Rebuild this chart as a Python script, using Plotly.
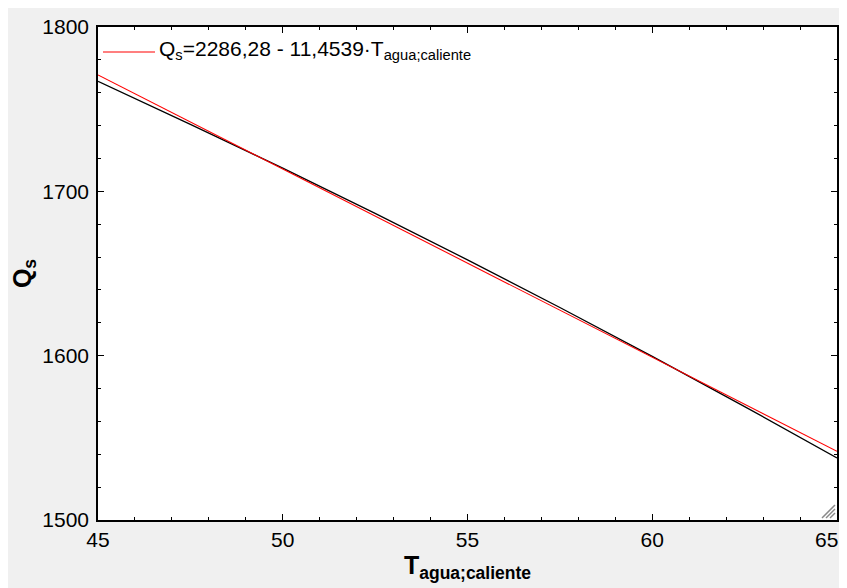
import plotly.graph_objects as go

# Data
t_agua = [45, 47.5, 50, 52.5, 55, 57.5, 60, 62.5, 65]
q_s = [1766.9, 1740.8, 1714.1, 1686.6, 1658.3, 1629.3, 1599.6, 1569.0, 1537.8]

fit_intercept = 2286.28
fit_slope = -11.4539
fit_x = [45, 65]
fit_y = [fit_intercept + fit_slope * x for x in fit_x]
fit_label = "Q<sub>s</sub>=2286,28 - 11,4539·T<sub>agua;caliente</sub>"

x_ticks = [45, 50, 55, 60, 65]
y_ticks = [1500, 1600, 1700, 1800]

font_family = "Liberation Sans, Arial, sans-serif"

W, H = 839, 580
ML, MR, MT, MB = 90, 10, 19, 68
PW, PH = W - ML - MR, H - MT - MB

fig = go.Figure()
fig.add_trace(go.Scatter(x=t_agua, y=q_s, mode="lines", line=dict(color="black", width=1.3),
                         showlegend=False, line_shape="spline"))
fig.add_trace(go.Scatter(x=fit_x, y=fit_y, mode="lines", line=dict(color="#ff0000", width=1.1),
                         name=fit_label, showlegend=False))

axis_common = dict(
    showgrid=False, zeroline=False, showline=True, linecolor="black", linewidth=1.5,
    mirror="allticks", ticks="inside", ticklen=6, tickwidth=1, tickcolor="black",
    tickfont=dict(size=21, color="black", family=font_family),
)

# last x label is drawn right-aligned at the edge (as in the reference), others by the axis
x_ticktext = [str(v) for v in x_ticks[:-1]] + [""]

fig.update_xaxes(range=[45, 65], tickvals=x_ticks, ticktext=x_ticktext,
                 minor=dict(dtick=1, ticks="inside", ticklen=3, tickcolor="black"),
                 title=dict(text="<b>T<sub>agua;caliente</sub></b>", standoff=0,
                            font=dict(size=25, color="black", family=font_family)),
                 **axis_common)
fig.update_yaxes(range=[1500, 1800], tickvals=y_ticks, ticktext=[str(v) for v in y_ticks],
                 minor=dict(dtick=20, ticks="inside", ticklen=3, tickcolor="black"),
                 ticklabelstandoff=3,
                 title=dict(text="<b>Q<sub>s</sub></b>", standoff=12,
                            font=dict(size=25, color="black", family=font_family)),
                 **axis_common)

fig.add_annotation(xref="x", yref="paper", x=x_ticks[-1], y=0, xanchor="right", yanchor="top",
                   xshift=3, yshift=-6, showarrow=False, text=str(x_ticks[-1]),
                   font=dict(size=21, color="black", family=font_family))

# manual legend: red line sample + label
leg_y = 1 - 25 / PH
fig.add_shape(type="line", xref="paper", yref="paper",
              x0=5 / PW, x1=57 / PW, y0=leg_y, y1=leg_y,
              line=dict(color="#ff0000", width=1.1))
fig.add_annotation(xref="paper", yref="paper", x=59 / PW, y=1 - 23 / PH,
                   xanchor="left", yanchor="middle", showarrow=False,
                   text=fit_label, font=dict(size=21, color="black", family=font_family))

# resize grip decoration in lower-right corner (three small diagonal strokes)
for s in [5, 9, 13]:
    fig.add_shape(type="line", xref="paper", yref="paper",
                  x0=1 - (s + 2) / PW, y0=2 / PH, x1=1 - 2 / PW, y1=(s + 2) / PH,
                  line=dict(color="#8a8a8a", width=1.5))

fig.update_layout(
    width=W, height=H,
    margin=dict(l=ML, r=MR, t=MT, b=MB, autoexpand=False),
    paper_bgcolor="#f0f0f0", plot_bgcolor="white",
    font=dict(family=font_family, color="black"),
    showlegend=False,
)

fig.write_html("out.html")
